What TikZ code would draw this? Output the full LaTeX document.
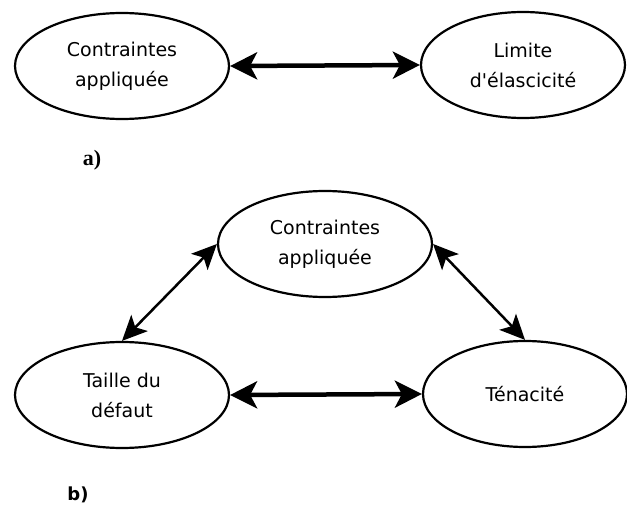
\documentclass[tikz,border=0pt]{standalone}
\usepackage{fontspec}
\setmainfont{DejaVu Sans}
\newfontfamily\labserif{Liberation Serif}
\newfontfamily\labsans{DejaVu Sans}
\usepackage{tikz}
\usetikzlibrary{arrows.meta,positioning,shapes.geometric}

\begin{document}
\begin{tikzpicture}[
x=1pt, y=-1pt,
concept/.style={draw, ellipse, line width=2.2pt, align=center, inner sep=0pt, minimum width=214pt, minimum height=106pt, font=\fontsize{19}{30}\selectfont},
link/.style={{Stealth[length=27pt, width=27pt, inset=7pt]}-{Stealth[length=27pt, width=27pt, inset=7pt]}, line width=4.5pt},
thinlink/.style={{Stealth[length=25pt, width=23pt, inset=6pt]}-{Stealth[length=25pt, width=23pt, inset=6pt]}, line width=2.5pt},
tag/.style={inner sep=0pt}
]
\useasboundingbox (0,0) rectangle (627,508);

% --- Part a ---
\node[concept] (stressA) at (122,66) {Contraintes\\appliquée};
\node[concept, minimum width=204pt] (yield) at (523,65) {Limite\\d\textquotesingle élascicité};
\node[tag, font=\labserif\bfseries\fontsize{22}{22}\selectfont] (tagA) at (92,160) {a)};

% --- Part b ---
\node[concept] (stressB) at (325,244) {Contraintes\\appliquée};
\node[concept] (flaw) at (122,395) {Taille du\\défaut};
\node[concept, minimum width=204pt] (tough) at (525,394) {Ténacité};
\node[tag, font=\labsans\bfseries\fontsize{18}{18}\selectfont] (tagB) at (78,495) {b)};

% --- Connections ---
\draw[link] (stressA.east) -- (yield.west);

\draw[thinlink] (stressB.west) -- (flaw.north);
\draw[thinlink] (stressB.east) -- (tough.north);

\draw[link] (flaw.east) -- (tough.west);

\end{tikzpicture}
\end{document}
